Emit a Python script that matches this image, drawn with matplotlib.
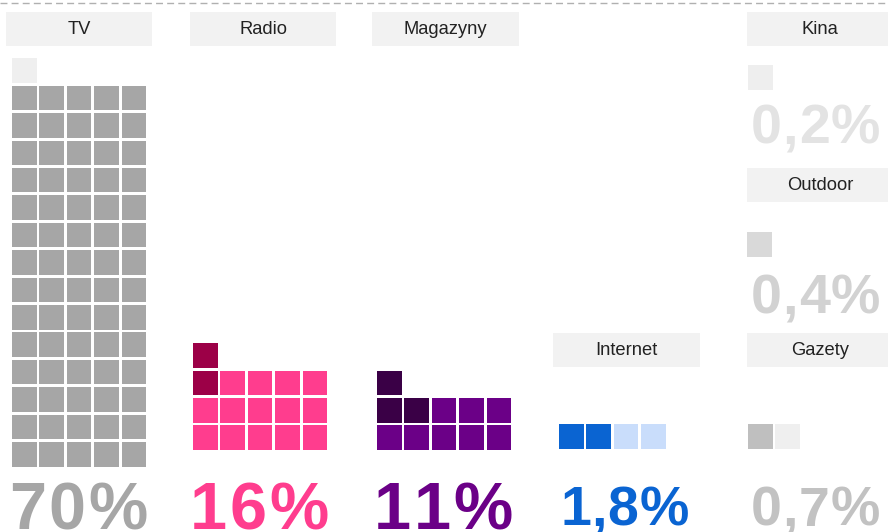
import matplotlib.pyplot as plt
from matplotlib.patches import Rectangle
from matplotlib.font_manager import FontProperties, findfont
from matplotlib.ft2font import FT2Font

# media categories and the share labels shown under each block
categories = ["TV", "Radio", "Magazyny", "Internet", "Kina", "Outdoor", "Gazety"]
share_labels = ["70%", "16%", "11%", "1,8%", "0,2%", "0,4%", "0,7%"]

# squares per category, in reading order (top-left first): (count, colour)
squares = [
    [(1, "#efefef"), (70, "#a6a6a6")],
    [(2, "#9c0047"), (14, "#ff3d8e")],
    [(3, "#3a0046"), (8, "#6b0087")],
    [(2, "#0a64d2"), (2, "#c9ddfb")],
    [(1, "#eeeeee")],
    [(1, "#d9d9d9")],
    [(1, "#bfbfbf"), (1, "#efefef")],
]
label_colors = ["#a6a6a6", "#ff3d8e", "#6b0087", "#0a64d2",
                "#e3e3e3", "#d2d2d2", "#c2c2c2"]

# layout (pixels): header box, grid origin, share label (x, baseline, size, tracking)
header_box = [(6, 12, 146, 34), (190, 12, 146, 34), (372, 12, 147, 34),
              (553, 333, 147, 34), (747, 12, 150, 34), (747, 168, 150, 34),
              (747, 333, 150, 34)]
grid_pos = [(12, 466.5), (193, 450), (377, 450), (559, 449),
            (748, 90), (747, 257), (748, 449)]
label_pos = [(9, 529, 48, 2.5), (190, 529, 48, 2.5), (374, 529, 48, 2.5),
             (560, 525, 40, 0.7), (751, 143, 40, 0.7), (751, 313, 40, 0.7),
             (751, 526, 40, 0.7)]

PITCH = 27.4
SIZE = 24.6
PER_ROW = 5
DPI = 100

fig = plt.figure(figsize=(8.88, 5.32), dpi=DPI)
ax = fig.add_axes([0, 0, 1, 1])
ax.set_xlim(0, 888)
ax.set_ylim(532, 0)
ax.axis("off")

bold_path = findfont(FontProperties(family="Liberation Sans", weight="bold"))


def tracked_text(x, y, s, size, track, color):
    # draw char by char so the letters can be spaced out a little
    font = FT2Font(bold_path)
    font.set_size(size, DPI)
    for ch in s:
        ax.text(x, y, ch, ha="left", va="baseline", fontsize=size,
                fontweight="bold", family="Liberation Sans", color=color)
        g = font.load_char(ord(ch))
        x += g.linearHoriAdvance / 65536 + track


# dashed rule along the top
ax.plot([0, 888], [3, 3], color="#b0b0b0", lw=1, ls=(0, (5, 3)))

for i, name in enumerate(categories):
    bx, by, bw, bh = header_box[i]
    ax.add_patch(Rectangle((bx, by), bw, bh, facecolor="#f2f2f2", edgecolor="none"))
    ax.text(bx + 73, by + bh / 2 + 0.5, name, ha="center", va="center",
            fontsize=13.2, family="Liberation Sans", color="#222222")

    colors = []
    for count, c in squares[i]:
        colors += [c] * count
    n = len(colors)
    full = n // PER_ROW
    rem = n % PER_ROW
    cells = []
    if rem:
        cells += [(full, col) for col in range(rem)]
    for r in range(full - 1, -1, -1):
        cells += [(r, col) for col in range(PER_ROW)]
    gx, gy = grid_pos[i]
    for (r, col), c in zip(cells, colors):
        ax.add_patch(Rectangle((gx + col * PITCH, gy - r * PITCH - SIZE),
                               SIZE, SIZE, facecolor=c, edgecolor="none"))

    lx, ly, fs, tr = label_pos[i]
    tracked_text(lx, ly, share_labels[i], fs, tr, label_colors[i])

fig.savefig("out.png", dpi=DPI)
